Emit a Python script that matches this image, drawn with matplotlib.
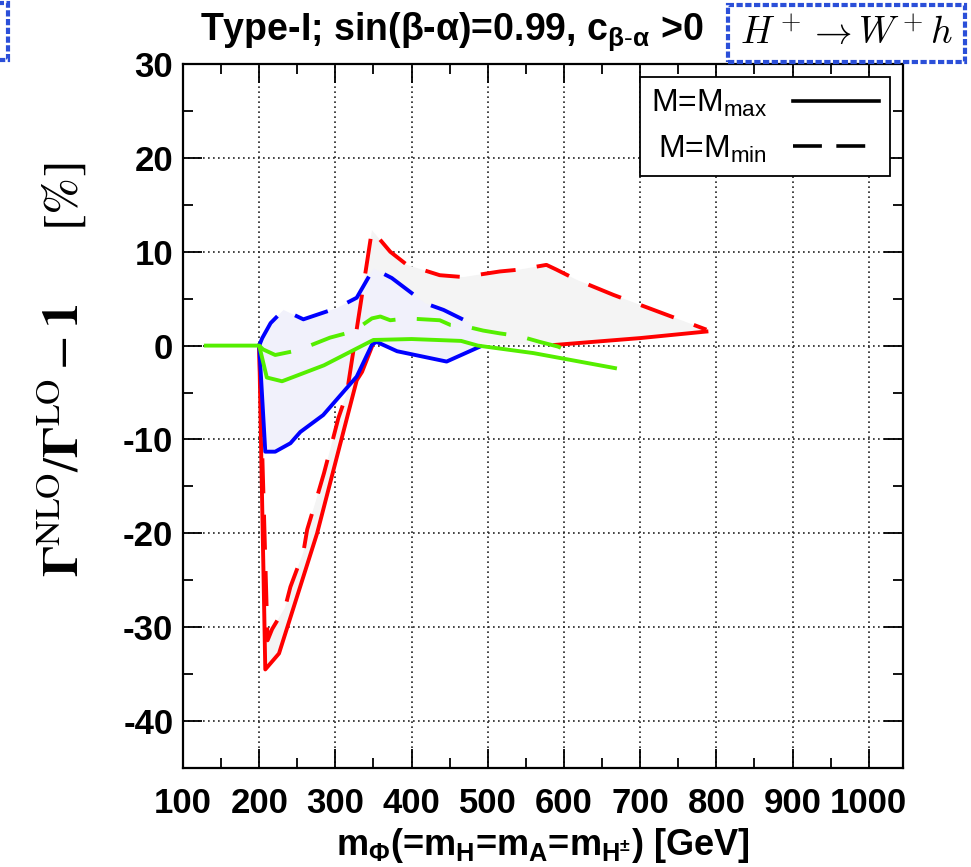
import numpy as np
import matplotlib
matplotlib.use("Agg")
import matplotlib.pyplot as plt
from matplotlib.lines import Line2D
from matplotlib.patches import Rectangle

# NLO/LO - 1 in percent vs. common heavy Higgs mass
red_max_x = [200, 208, 226, 276, 328, 335, 350, np.nan, 588, 700, 787]
red_max_y = [0.0, -34.5, -32.8, -20.0, -3.7, -2.8, 0.3, np.nan, 0.07, 0.8, 1.5]
red_min_x = [200, 211, 217, 234, 241, 258, 263, 276, 285, 297, 304, 315, 341, 348,
             372, 394, 437, 468, 516, 542, 577, 590, 617, 665, 787]
red_min_y = [0.0, -31.4, -30.2, -27.9, -25.7, -22.0, -19.6, -16.1, -13.6, -9.9, -7.7, -5.1, 8.6, 12.3,
             10.0, 8.6, 7.5, 7.3, 7.9, 8.1, 8.6, 8.1, 7.0, 5.4, 1.7]

blue_max_x = [200, 208, 221, 241, 254, 284, 328, 348, 354, 381, 446, 490]
blue_max_y = [0.0, -11.3, -11.3, -10.4, -9.2, -7.4, -3.3, 0.1, 0.4, -0.6, -1.7, -0.1]
blue_min_x = [200, 204, 215, 232, 258, 302, 328, 350, 374, 418, 442, 487]
blue_min_y = [0.0, 0.8, 2.4, 3.8, 2.8, 4.0, 5.1, 8.2, 7.2, 4.5, 3.8, 2.0]

green_max_x = [130, 200, 210, 230, 285, 345, 350, 400, 465, 487, 560, 667]
green_max_y = [0.0, 0.0, -3.4, -3.8, -2.1, 0.4, 0.6, 0.7, 0.5, 0.0, -0.8, -2.4]
green_min_x = [200, 205, 221, 251, 293, 323, 348, 359, 372, 394, 437, 451, 468, 494,
               516, 542, 568, 592, 610]
green_min_y = [0.0, -0.4, -1.0, -0.5, 0.85, 1.5, 2.9, 3.1, 2.7, 2.9, 2.7, 2.2, 2.1, 1.6,
               1.3, 1.0, 0.4, -0.1, -0.7]

sans = ["Liberation Sans", "DejaVu Sans"]
plt.rcParams["font.family"] = sans
plt.rcParams["axes.unicode_minus"] = False
plt.rcParams["mathtext.fontset"] = "custom"
plt.rcParams["mathtext.rm"] = sans[0]
plt.rcParams["mathtext.it"] = sans[0] + ":italic"
plt.rcParams["mathtext.bf"] = sans[0] + ":bold"

RED, BLUE, GREEN = "#ff0000", "#0000ff", "#55ee00"
DASH = (0, (9, 5.5))
LW = 2.8

fig = plt.figure(figsize=(9.71, 8.67), dpi=100)
W, H = 971, 867
ax = fig.add_axes([183 / W, 1 - 768 / H, (903 - 183) / W, (768 - 64) / H])


def band(xa, ya, xb, yb):
    xa, ya, xb, yb = map(np.asarray, (xa, ya, xb, yb))
    ka, kb = ~np.isnan(xa), ~np.isnan(xb)
    px = np.r_[xa[ka], xb[kb][::-1]]
    py = np.r_[ya[ka], yb[kb][::-1]]
    return px, py


# shaded envelopes between M_max and M_min
ax.fill(*band(red_min_x, red_min_y, red_max_x, red_max_y), color="#f4f4f4", lw=0, zorder=1)
ax.fill(*band(blue_min_x, blue_min_y, blue_max_x, blue_max_y), color="#f1f1fb", lw=0, zorder=1.5)

ax.plot(red_max_x, red_max_y, color=RED, lw=LW, zorder=3)
ax.plot(red_min_x, red_min_y, color=RED, lw=LW, ls=DASH, zorder=3)
ax.plot(blue_max_x, blue_max_y, color=BLUE, lw=LW, zorder=4)
ax.plot(blue_min_x, blue_min_y, color=BLUE, lw=LW, ls=DASH, zorder=4)
ax.plot(green_max_x, green_max_y, color=GREEN, lw=LW, zorder=5)
ax.plot(green_min_x, green_min_y, color=GREEN, lw=LW, ls=DASH, zorder=5)

ax.set_xlim(100, 1045)
ax.set_ylim(-45, 30)
ax.set_xticks(np.arange(100, 1001, 100))
ax.set_xticks(np.arange(150, 1001, 100), minor=True)
ax.set_yticks(np.arange(-40, 31, 10))
ax.set_yticks(np.arange(-45, 30, 10), minor=True)
ax.tick_params(which="both", direction="in", top=True, right=True, width=1.3, labelsize=25)
ax.tick_params(which="major", length=14)
ax.tick_params(which="minor", length=7)
ax.tick_params(axis="x", pad=14)
ax.tick_params(axis="y", pad=7)
for lab in ax.get_xticklabels() + ax.get_yticklabels():
    lab.set_fontweight("bold")
ax.grid(True, which="major", color="#222222", lw=1.2, ls=(0, (1, 2)))
ax.set_axisbelow(True)
for s in ax.spines.values():
    s.set_linewidth(1.6)

ax.set_xlabel(r"m$_{\mathbf{\Phi}}$(=m$_{\mathbf{H}}$=m$_{\mathbf{A}}$=m$_{\mathbf{H^{\pm}}}$) [GeV]",
              fontsize=26, fontweight="bold", labelpad=4)

handles = [Line2D([], [], color="black", lw=2.6),
           Line2D([], [], color="black", lw=2.6, ls=(0, (8, 4)))]
leg = ax.legend(handles, [r"M=M$_{\rm max}$", r"M=M$_{\rm min}$"], loc="upper right",
                fontsize=23, markerfirst=False, handlelength=2.7, handletextpad=0.8,
                borderaxespad=0.4, labelspacing=0.45, borderpad=0.35, fancybox=False,
                framealpha=1, edgecolor="black")
leg.get_frame().set_linewidth(1.3)
leg.set_zorder(10)

fig.text(62 / W, 1 - 370 / H,
         r"$\mathbf{\Gamma}^{\rm NLO}/\mathbf{\Gamma}^{\rm LO} - \mathbf{1}\quad\quad [\%]$",
         rotation=90, fontsize=36, ha="center", va="center", math_fontfamily="stix")

fig.text(452 / W, 1 - 32 / H, r"Type-I; sin(β-α)=0.99, $\mathbf{c}_{\mathbf{β\text{-}α}}$ >0",
         fontsize=27, fontweight="bold", ha="center", va="center")
fig.text(846 / W, 1 - 34 / H, r"$H^+ \to W^+ h$", fontsize=27, ha="center", va="center",
         math_fontfamily="cm")

fig.patches.append(Rectangle((728 / W, 1 - 62 / H), 237 / W, 57 / H, transform=fig.transFigure,
                             fill=False, ec="#2b4fd8", lw=3, ls=(0, (1.5, 0.6))))
fig.patches.append(Rectangle((-12 / W, 1 - 60 / H), 20 / W, 57 / H, transform=fig.transFigure,
                             fill=False, ec="#2b4fd8", lw=3, ls=(0, (1.5, 0.6))))

fig.savefig("out.png", dpi=100)
